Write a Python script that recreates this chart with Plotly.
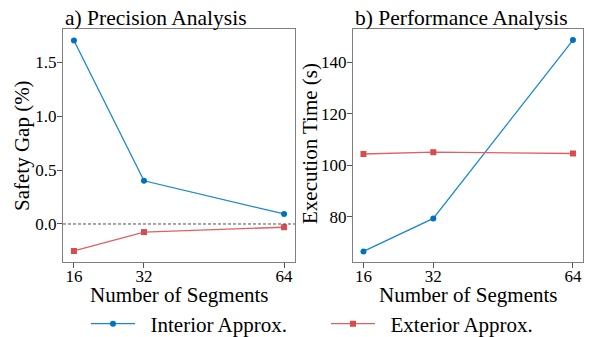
import plotly.graph_objects as go

segments = [16, 32, 64]
gap_interior = [1.70, 0.40, 0.093]
gap_exterior = [-0.25, -0.075, -0.03]
time_interior = [66.6, 79.4, 148.6]
time_exterior = [104.4, 105.1, 104.6]
x_ticks = [16, 32, 64]
gap_ticks = [0.0, 0.5, 1.0, 1.5]
gap_labels = ["0.0", "0.5", "1.0", "1.5"]
time_ticks = [80, 100, 120, 140]

BLUE_LINE = "#1a88d0"
BLUE_MK = "#0072bd"
RED_LINE = "#e06060"
RED_MK = "#d94c4c"
FONT = "Times New Roman"
PAD = "\u00a0\u00a0"

fig = go.Figure()
fig.add_trace(go.Scatter(x=segments, y=gap_interior, mode="lines+markers", name=PAD + "Interior Approx.",
                         line=dict(color=BLUE_LINE, width=1.3), marker=dict(color=BLUE_MK, size=6, symbol="circle"),
                         xaxis="x", yaxis="y", legend="legend"))
fig.add_trace(go.Scatter(x=segments, y=gap_exterior, mode="lines+markers", name=PAD + "Exterior Approx.",
                         line=dict(color=RED_LINE, width=1.3), marker=dict(color=RED_MK, size=6, symbol="square"),
                         xaxis="x", yaxis="y", legend="legend2"))
fig.add_trace(go.Scatter(x=segments, y=time_interior, mode="lines+markers", name="Interior Approx.",
                         line=dict(color=BLUE_LINE, width=1.3), marker=dict(color=BLUE_MK, size=6, symbol="circle"),
                         xaxis="x2", yaxis="y2", showlegend=False))
fig.add_trace(go.Scatter(x=segments, y=time_exterior, mode="lines+markers", name="Exterior Approx.",
                         line=dict(color=RED_LINE, width=1.3), marker=dict(color=RED_MK, size=6, symbol="square"),
                         xaxis="x2", yaxis="y2", showlegend=False))

W, H = 589, 337
ydom = [1 - 262 / H, 1 - 29 / H]
axcommon = dict(showgrid=False, zeroline=False, showline=True, mirror=True, linecolor="#7f7f7f", linewidth=1.2,
                ticks="outside", ticklen=5, tickcolor="#555555", automargin=False, ticklabeloverflow="allow",
                tickfont=dict(family=FONT, size=17, color="black"))

legcommon = dict(orientation="h", y=1 - 324 / H, yanchor="middle", xanchor="left", itemwidth=44,
                 font=dict(family=FONT, size=21, color="black"), bgcolor="rgba(0,0,0,0)",
                 borderwidth=0)

def label(text, x, y, angle=0, size=21):
    return dict(text=text, x=x / W, y=1 - y / H, xref="paper", yref="paper", textangle=angle,
                xanchor="center", yanchor="middle", showarrow=False,
                font=dict(size=size, family=FONT, color="black"))

fig.update_layout(
    width=W, height=H, margin=dict(l=0, r=0, t=0, b=0, pad=0, autoexpand=False),
    paper_bgcolor="white", plot_bgcolor="white",
    font=dict(family=FONT, color="black"),
    xaxis=dict(domain=[63 / W, 295 / W], range=[13.5, 66.5], tickvals=x_ticks, anchor="y",
               ticklabelstandoff=-7, **axcommon),
    yaxis=dict(domain=ydom, range=[-0.352, 1.806], tickvals=gap_ticks, ticktext=gap_labels, anchor="x",
               ticklabelstandoff=-3, **axcommon),
    xaxis2=dict(domain=[353 / W, 583 / W], range=[13.6, 66.3], tickvals=x_ticks, anchor="y2",
                ticklabelstandoff=-7, **axcommon),
    yaxis2=dict(domain=ydom, range=[62.5, 152.9], tickvals=time_ticks, anchor="x2",
                ticklabelstandoff=-3, **axcommon),
    legend=dict(x=86 / W, **legcommon),
    legend2=dict(x=326 / W, **legcommon),
    shapes=[dict(type="line", xref="x domain", yref="y", x0=0, x1=1, y0=0, y1=0,
                 line=dict(color="black", width=0.7, dash="3px,2px"))],
    annotations=[
        dict(text="a) Precision Analysis", x=63 / W, y=1 - 18 / H, xref="paper", yref="paper",
             xanchor="left", yanchor="middle", showarrow=False, font=dict(size=21.5, family=FONT)),
        dict(text="b) Performance Analysis", x=353 / W, y=1 - 18 / H, xref="paper", yref="paper",
             xanchor="left", yanchor="middle", showarrow=False, font=dict(size=21.5, family=FONT)),
        label("Number of Segments", 179, 295),
        label("Number of Segments", 468, 295),
        label("Safety Gap (%)", 22, 146, angle=-90),
        label("Execution Time (s)", 310, 144, angle=-90),
    ],
)
js = ("var d=document.documentElement,b=document.body;"
      "d.style.margin='0';d.style.padding='0';d.style.overflow='hidden';"
      "b.style.margin='0';b.style.padding='0';b.style.overflow='hidden';")
fig.write_html("out.html", config={"displayModeBar": False}, post_script=js)
